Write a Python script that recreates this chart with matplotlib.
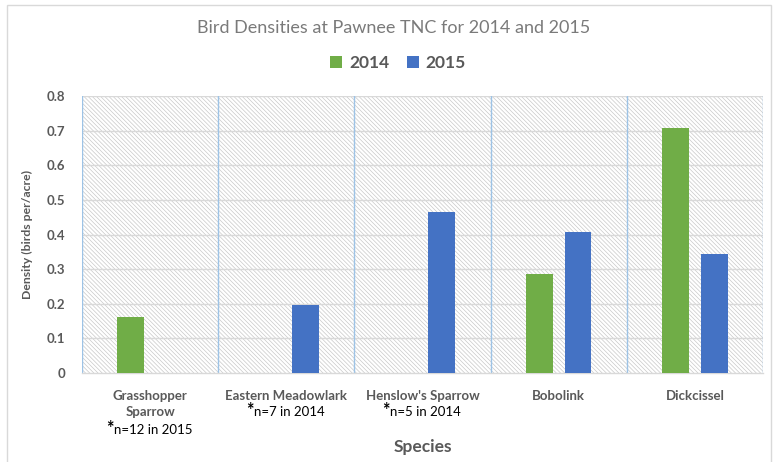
import matplotlib
matplotlib.use("Agg")
import matplotlib.pyplot as plt
import numpy as np
from matplotlib.patches import Rectangle
from matplotlib.transforms import blended_transform_factory, offset_copy

plt.rcParams['font.family'] = ['Lato', 'DejaVu Sans']
plt.rcParams['hatch.linewidth'] = 0.5

species = ["Grasshopper\nSparrow", "Eastern Meadowlark", "Henslow's Sparrow", "Bobolink", "Dickcissel"]
notes = ["n=12 in 2015", "n=7 in 2014", "n=5 in 2014", "", ""]
note_line = [2, 1, 1, 0, 0]  # line index below species label
years = ["2014", "2015"]
vals_2014 = [0.162, 0.0, 0.0, 0.285, 0.709]
vals_2015 = [0.0, 0.196, 0.465, 0.407, 0.343]
yticks = [0, 0.1, 0.2, 0.3, 0.4, 0.5, 0.6, 0.7, 0.8]
ytick_labels = ["0", "0.1", "0.2", "0.3", "0.4", "0.5", "0.6", "0.7", "0.8"]

GREEN = "#70ad47"
BLUE = "#4472c4"
TXT = "#595959"

W, H = 780, 462
fig = plt.figure(figsize=(W / 100, H / 100), dpi=100)
fig.patch.set_facecolor("white")
ax = fig.add_axes([82 / W, (H - 373) / H, (763 - 82) / W, (373 - 96) / H])

# outer chart border
fig.patches.append(Rectangle((7 / W, -0.05), (771 - 7) / W, (H - 5) / H + 0.05,
                             transform=fig.transFigure, fill=False,
                             edgecolor="#d9d9d9", linewidth=1, zorder=0))

# hatched plot background
ax.patch.set_facecolor("white")
ax.add_patch(Rectangle((0, 0), 1, 1, transform=ax.transAxes, facecolor="white",
                       edgecolor="#c9c9c9", hatch="\\" * 8, linewidth=0, zorder=0))

x = np.arange(len(species))
bw = 0.196
off = 0.142
ax.bar(x - off, vals_2014, bw, color=GREEN, label=years[0], zorder=3)
ax.bar(x + off, vals_2015, bw, color=BLUE, label=years[1], zorder=3)

ax.set_xlim(-0.5, len(species) - 0.5)
ax.set_ylim(0, 0.8)
ax.set_yticks(yticks)
ax.set_yticklabels(ytick_labels)
for t in yticks[1:]:
    ax.axhline(t, color="#d9d9d9", linewidth=1, zorder=1)
for b in np.arange(-0.5, len(species), 1.0):
    ax.axvline(b, color="#9dc3e6", linewidth=1, zorder=2)

for s in ["top", "right", "left"]:
    ax.spines[s].set_visible(False)
ax.spines["bottom"].set_color("#d9d9d9")
ax.spines["bottom"].set_linewidth(1)

ax.tick_params(axis="both", length=0)
ax.tick_params(axis="y", pad=12, labelsize=9.5, labelcolor=TXT)
ax.tick_params(axis="x", pad=12, labelsize=9.5, labelcolor=TXT)
for lab in ax.get_yticklabels():
    lab.set_fontweight("bold")
ax.set_xticks(x)
ax.set_xticklabels(species, fontweight="bold", linespacing=1.45)

ax.set_ylabel("Density (birds per/acre)", fontsize=8.8, fontweight="bold", color=TXT, labelpad=10)
ax.set_xlabel("Species", fontsize=12.5, fontweight="bold", color=TXT)
ax.xaxis.set_label_coords(0.5, -(447 - 373) / (373 - 96), transform=ax.transAxes)
ax.xaxis.label.set_va("center")

# notes below species labels
tr = blended_transform_factory(ax.transData, fig.transFigure)
line_y = [393, 412, 430]
for i, n in enumerate(notes):
    if not n:
        continue
    yp = line_y[note_line[i]]
    t = ax.text(x[i], (H - yp) / H, n, transform=offset_copy(tr, fig=fig, x=3, units="dots"),
                ha="center", va="center", fontsize=9.5, color="black")
    ax.annotate("*", xy=(0, 0.62), xycoords=t, ha="right", va="center",
                fontsize=13, fontweight="bold", color="black")

fig.text(394 / W, (H - 28) / H, "Bird Densities at Pawnee TNC for 2014 and 2015",
         ha="center", va="center", fontsize=13, color="#7a7a7a")

leg = fig.legend(loc="center", bbox_to_anchor=(398 / W, (H - 63) / H), ncol=2, frameon=False,
                 prop={"weight": "bold", "size": 12.5}, labelcolor=TXT,
                 handlelength=0.7, handleheight=0.7, handletextpad=0.4, columnspacing=1.0)

fig.savefig("out.png", dpi=100, facecolor="white")
